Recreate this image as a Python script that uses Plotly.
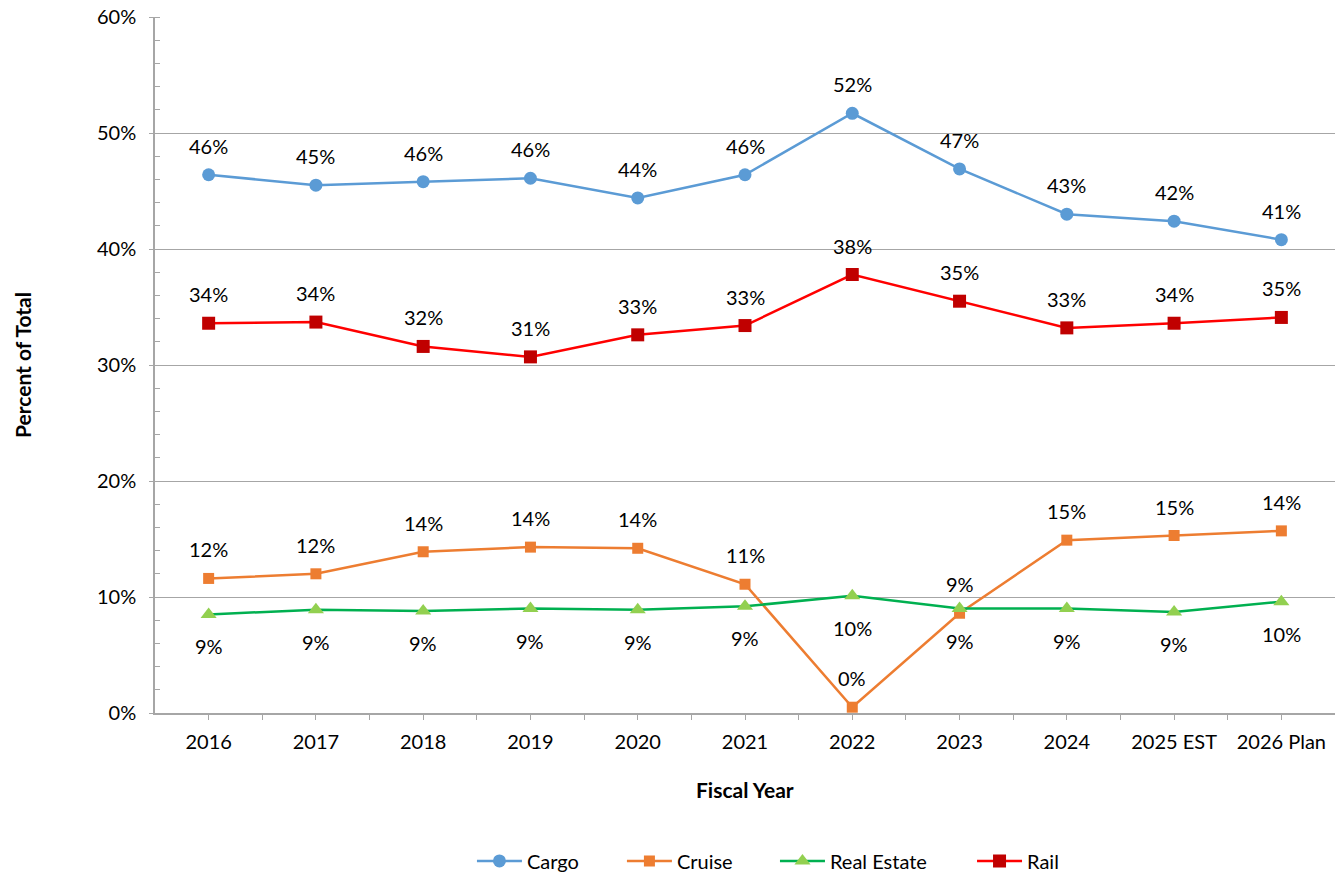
import plotly.graph_objects as go

years = ["2016", "2017", "2018", "2019", "2020", "2021", "2022", "2023", "2024", "2025 EST", "2026 Plan"]

cargo = [46.4, 45.5, 45.8, 46.1, 44.4, 46.4, 51.7, 46.9, 43.0, 42.4, 40.8]
cruise = [11.6, 12.0, 13.9, 14.3, 14.2, 11.1, 0.5, 8.6, 14.9, 15.3, 15.7]
real_estate = [8.5, 8.9, 8.8, 9.0, 8.9, 9.2, 10.1, 9.0, 9.0, 8.7, 9.6]
rail = [33.6, 33.7, 31.6, 30.7, 32.6, 33.4, 37.8, 35.5, 33.2, 33.6, 34.1]

cargo_labels = ["46%", "45%", "46%", "46%", "44%", "46%", "52%", "47%", "43%", "42%", "41%"]
cruise_labels = ["12%", "12%", "14%", "14%", "14%", "11%", "0%", "9%", "15%", "15%", "14%"]
real_estate_labels = ["9%", "9%", "9%", "9%", "9%", "9%", "10%", "9%", "9%", "9%", "10%"]
rail_labels = ["34%", "34%", "32%", "31%", "33%", "33%", "38%", "35%", "33%", "34%", "35%"]

y_ticks = [0, 10, 20, 30, 40, 50, 60]
y_ticktext = ["0%", "10%", "20%", "30%", "40%", "50%", "60%"]

FONT = "Lato"
GRID = "#A6A6A6"
xs = list(range(len(years)))

fig = go.Figure()

series = [
    ("Cargo", cargo, cargo_labels, "#5B9BD5", "#5B9BD5", "circle", 13, 29, "legend", 0.2686),
    ("Cruise", cruise, cruise_labels, "#ED7D31", "#ED7D31", "square", 11, 29, "legend2", 0.3957),
    ("Real Estate", real_estate, real_estate_labels, "#00B050", "#92D050", "triangle-up", 14, -32, "legend3", 0.5254),
    ("Rail", rail, rail_labels, "#FF0000", "#C00000", "square", 13, 29, "legend4", 0.6924),
]

legend_layout = {}
for name, vals, labels, lc, mc, sym, ms, shift, lg, lx in series:
    fig.add_trace(go.Scatter(
        x=xs, y=vals, name=name, mode="lines+markers",
        line=dict(color=lc, width=2.5),
        marker=dict(color=mc, symbol=sym, size=ms, line=dict(width=0)),
        legend=lg,
    ))
    legend_layout[lg] = dict(orientation="h", x=lx, xanchor="left", y=-0.2126, yanchor="middle",
                             font=dict(family=FONT, size=20, color="#000000"), itemwidth=45,
                             bgcolor="rgba(0,0,0,0)")
    for xi, v, t in zip(xs, vals, labels):
        fig.add_annotation(x=xi, y=v, text=t, showarrow=False, yshift=shift,
                           font=dict(family=FONT, size=20, color="#000000"))

fig.add_annotation(xref="paper", yref="paper", x=0.5, y=-0.1106, yanchor="middle",
                   text="<b>Fiscal Year</b>", showarrow=False,
                   font=dict(family=FONT, size=21, color="#000000"))
fig.add_annotation(xref="paper", yref="paper", x=-0.1127, y=0.5, xanchor="center", yanchor="middle",
                   text="<b>Percent of Total</b>", textangle=-90, showarrow=False,
                   font=dict(family=FONT, size=21, color="#000000"))

fig.update_layout(
    width=1335, height=878,
    margin=dict(l=155, r=0, t=17, b=165, autoexpand=False),
    plot_bgcolor="white", paper_bgcolor="white",
    font=dict(family=FONT, size=20, color="#000000"),
    showlegend=True,
    **legend_layout,
)

fig.update_xaxes(
    range=[-0.5, len(years) - 0.5],
    tickmode="array", tickvals=xs, ticktext=years,
    ticks="outside", ticklen=5, tickcolor=GRID, tickwidth=1,
    minor=dict(tickmode="array", tickvals=[i + 0.5 for i in xs], ticks="outside", ticklen=5, tickcolor=GRID),
    showline=True, linecolor=GRID, linewidth=1.5,
    showgrid=False, zeroline=False, automargin=False,
    tickfont=dict(family=FONT, size=20), ticklabelstandoff=5,
    ticklabeloverflow="allow",
)
fig.update_yaxes(
    range=[0, 60],
    tickmode="array", tickvals=y_ticks, ticktext=y_ticktext,
    ticks="outside", ticklen=4, tickcolor=GRID,
    minor=dict(dtick=2, ticks="inside", ticklen=5, tickcolor=GRID, showgrid=False),
    showline=True, linecolor=GRID, linewidth=1.5,
    showgrid=True, gridcolor=GRID, gridwidth=1, zeroline=False, automargin=False,
    tickfont=dict(family=FONT, size=20), ticklabelstandoff=9,
    ticklabeloverflow="allow",
)

fig.write_html("out.html", config={"displayModeBar": False},
               post_script="document.body.style.margin='0';")
